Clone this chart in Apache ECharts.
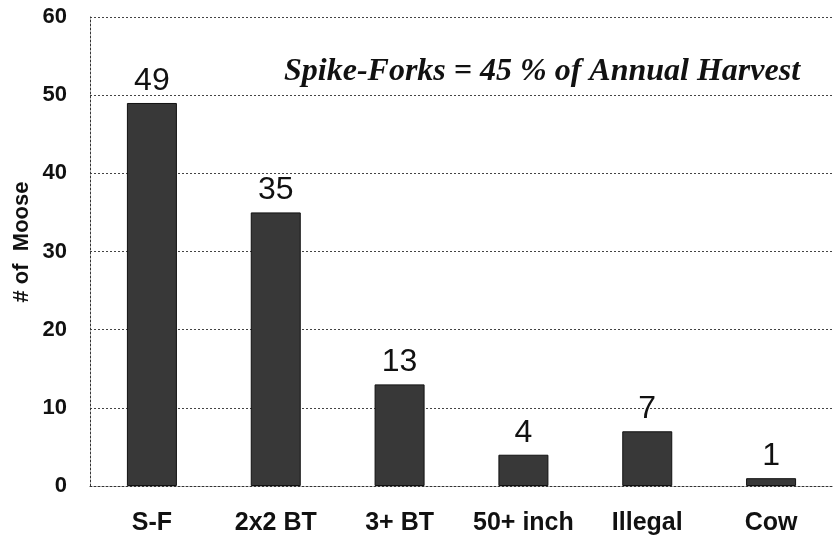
<!DOCTYPE html>
<html>
<head>
<meta charset="utf-8">
<script src="https://cdn.jsdelivr.net/npm/echarts@6/dist/echarts.min.js"></script>
<style>
html,body{margin:0;padding:0;background:#fff;}
#chart{width:833px;height:546px;}
</style>
</head>
<body>
<div id="chart"></div>
<script>
const categories = ["S-F", "2x2 BT", "3+ BT", "50+ inch", "Illegal", "Cow"];
const moose = [49, 35, 13, 4, 7, 1];
const yTicks = {min: 0, max: 60, interval: 10};
const yTitle = "# of  Moose";
const note = "Spike-Forks = 45 % of Annual Harvest";

const chart = echarts.init(document.getElementById('chart'), null, {renderer: 'canvas'});
chart.setOption({
  animation: false,
  backgroundColor: '#ffffff',
  grid: {left: 90, right: 0, top: 17, bottom: 60, containLabel: false},
  xAxis: {
    type: 'category',
    data: categories,
    axisLine: {show: true, lineStyle: {color: '#333', type: [2, 2], width: 1}},
    axisTick: {show: false},
    axisLabel: {
      interval: 0, hideOverlap: false,
      margin: 25, color: '#111', fontSize: 25, fontWeight: 'bold',
      fontFamily: 'Liberation Sans, Arial, sans-serif'
    }
  },
  yAxis: {
    type: 'value',
    min: yTicks.min, max: yTicks.max, interval: yTicks.interval,
    axisLine: {show: true, lineStyle: {color: '#333', type: [2, 2], width: 1}},
    axisTick: {show: false},
    axisLabel: {margin: 23, color: '#111', fontSize: 22, fontWeight: 'bold',
      fontFamily: 'Liberation Sans, Arial, sans-serif'},
    splitLine: {show: true, lineStyle: {color: '#444', type: [2, 2], width: 1}}
  },
  series: [{
    type: 'bar',
    data: moose,
    barWidth: 50,
    itemStyle: {color: '#383838', borderColor: '#111', borderWidth: 1},
    label: {
      show: true, position: 'top', distance: 6,
      color: '#111', fontSize: 32,
      fontFamily: 'Liberation Sans, Arial, sans-serif'
    }
  }],
  graphic: [{
    type: 'text',
    left: 284, top: 56,
    style: {
      text: note,
      fill: '#111',
      font: 'italic bold 32px "Liberation Serif", "Times New Roman", serif'
    }
  }, {
    type: 'text',
    x: 22, y: 242,
    rotation: Math.PI / 2,
    style: {
      text: yTitle,
      fill: '#111',
      align: 'center',
      verticalAlign: 'middle',
      font: 'bold 22px "Liberation Sans", Arial, sans-serif'
    }
  }]
});
</script>
</body>
</html>
